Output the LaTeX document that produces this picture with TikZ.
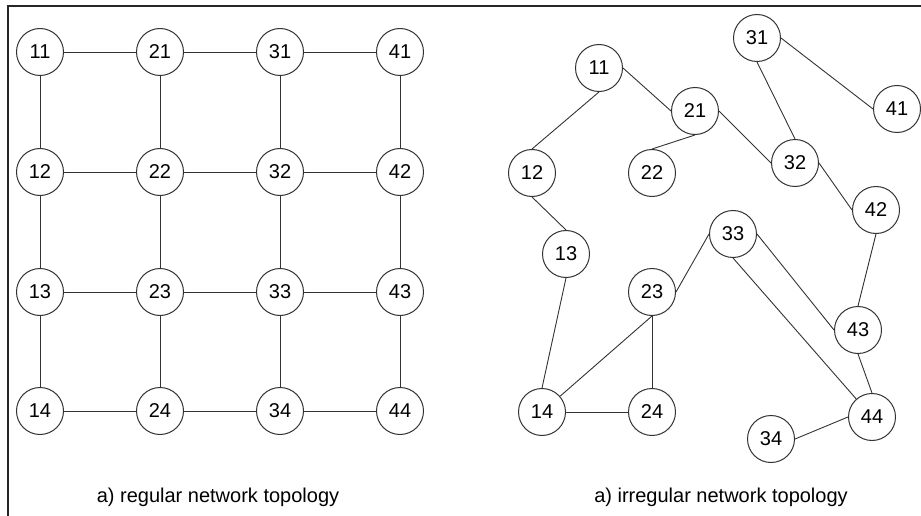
\documentclass[tikz,border=0pt]{standalone}
\usepackage{fontspec}
\setmainfont{Liberation Sans}
\usetikzlibrary{calc}

\tikzset{
  router/.style={circle, draw=black!80, line width=1pt, minimum size=47pt, inner sep=0pt,
    font=\fontsize{20}{20}\selectfont, fill=white},
  link/.style={draw=black!80, line width=0.9pt},
  caption/.style={font=\fontsize{20}{24}\selectfont}
}

\begin{document}
\begin{tikzpicture}[x=1pt,y=-1pt]
    \useasboundingbox (0,0) rectangle (921,516);
    % frame
    \draw[line width=2pt, black!85] (921,6) -- (8,6) -- (8,516);

    % regular mesh
    \node[router] (r11) at (40,52) {11};
    \node[router] (r21) at (160,52) {21};
    \node[router] (r31) at (280,52) {31};
    \node[router] (r41) at (400,52) {41};
    \node[router] (r12) at (40,172) {12};
    \node[router] (r22) at (160,172) {22};
    \node[router] (r32) at (280,172) {32};
    \node[router] (r42) at (400,172) {42};
    \node[router] (r13) at (40,292) {13};
    \node[router] (r23) at (160,292) {23};
    \node[router] (r33) at (280,292) {33};
    \node[router] (r43) at (400,292) {43};
    \node[router] (r14) at (40,411) {14};
    \node[router] (r24) at (160,411) {24};
    \node[router] (r34) at (280,411) {34};
    \node[router] (r44) at (400,411) {44};
    \draw[link] (r11) -- (r21) -- (r31) -- (r41);
    \draw[link] (r12) -- (r22) -- (r32) -- (r42);
    \draw[link] (r13) -- (r23) -- (r33) -- (r43);
    \draw[link] (r14) -- (r24) -- (r34) -- (r44);
    \draw[link] (r11) -- (r12) -- (r13) -- (r14);
    \draw[link] (r21) -- (r22) -- (r23) -- (r24);
    \draw[link] (r31) -- (r32) -- (r33) -- (r34);
    \draw[link] (r41) -- (r42) -- (r43) -- (r44);
    \node[caption] (capreg) at (218,497) {a) regular network topology};

    % irregular network (links start at the glue points of the circles)
    \node[router] (i11) at (599,68) {11};
    \node[router] (i21) at (695,111) {21};
    \node[router] (i31) at (757,38) {31};
    \node[router] (i41) at (897,109) {41};
    \node[router] (i12) at (532,173) {12};
    \node[router] (i22) at (652,173) {22};
    \node[router] (i32) at (795,163) {32};
    \node[router] (i42) at (876,210) {42};
    \node[router] (i13) at (566,254) {13};
    \node[router] (i23) at (652,292) {23};
    \node[router] (i33) at (733,234) {33};
    \node[router] (i43) at (858,330) {43};
    \node[router] (i14) at (542,412) {14};
    \node[router] (i24) at (652,412) {24};
    \node[router] (i34) at (771,439) {34};
    \node[router] (i44) at (872,417) {44};
    \draw[link] (i11.south) -- (i12.north);
    \draw[link] (i11.east) -- (i21.west);
    \draw[link] (i21.south) -- (i22.north);
    \draw[link] (i21.east) -- (i32.west);
    \draw[link] (i31.south) -- (i32.north);
    \draw[link] (i31.east) -- (i41.west);
    \draw[link] (i32.east) -- (i42.west);
    \draw[link] (i42.south) -- (i43.north);
    \draw[link] (i43.south) -- (i44.north);
    \draw[link] (i34.east) -- (i44.west);
    \draw[link] (i12.south) -- (i13.north);
    \draw[link] (i13.south) -- (i14.north);
    \draw[link] (i14.east) -- (i24.west);
    \draw[link] (i14) -- (i23.south);
    \draw[link] (i23.south) -- (i24.north);
    \draw[link] (i23.east) -- (i33.west);
    \draw[link] (i33.east) -- (i43.west);
    \draw[link] (i33.south) -- (i44);
    \node[caption] (capirr) at (721,497) {a) irregular network topology};
\end{tikzpicture}
\end{document}
